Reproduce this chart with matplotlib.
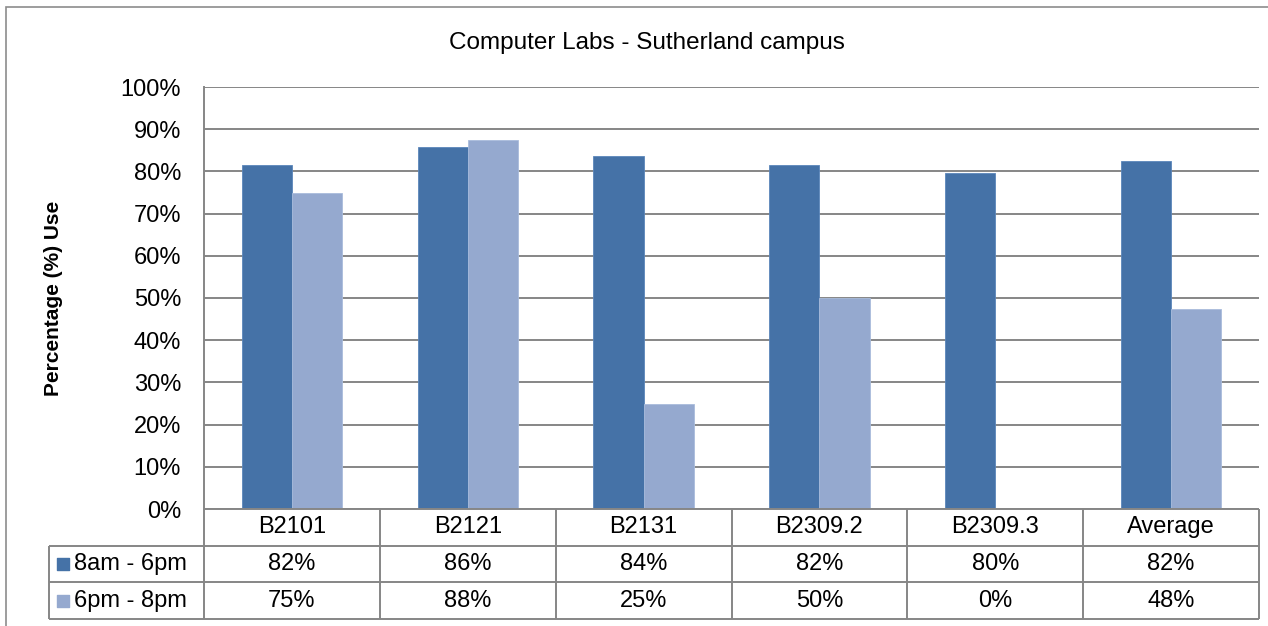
import numpy as np
import matplotlib.pyplot as plt
from matplotlib.patches import Rectangle

# chart data
categories = ["B2101", "B2121", "B2131", "B2309.2", "B2309.3", "Average"]
series_names = ["8am - 6pm", "6pm - 8pm"]
day_use = [81.6, 85.7, 83.6, 81.6, 79.6, 82.4]
evening_use = [75.0, 87.5, 25.0, 50.0, 0.0, 47.5]
yticks = list(range(0, 101, 10))

DARK = "#4572A7"
LIGHT = "#95A9CF"
GRID = "#868686"
FONT = "Liberation Sans"

W, H = 1268, 626
fig = plt.figure(figsize=(W / 100, H / 100), dpi=100)
fig.patch.set_facecolor("white")


def px_axes(x0, y0, x1, y1):
    """axes from pixel box (top-left origin)"""
    return fig.add_axes([x0 / W, 1 - y1 / H, (x1 - x0) / W, (y1 - y0) / H])


# outer chart border
fig.patches.append(Rectangle((6 / W, -0.05), 1.05, 1 - 7 / H + 0.05,
                             transform=fig.transFigure, fill=False,
                             edgecolor="#8c8c8c", lw=1.2))

ax = px_axes(204, 87, 1259, 509)
x = np.arange(len(categories))
bw = 0.285
ax.bar(x - bw / 2, day_use, bw, color=DARK, edgecolor="#5b86bb", lw=0.6, zorder=3)
ax.bar(x + bw / 2, evening_use, bw, color=LIGHT, edgecolor="#a9bcdc", lw=0.6, zorder=3)
ax.set_xlim(-0.5, len(categories) - 0.5)
ax.set_ylim(0, 100)
ax.set_yticks(yticks)
ax.set_yticklabels([f"{t}%" for t in yticks], fontsize=17, family=FONT)
ax.tick_params(axis="y", length=0, pad=16.5)
ax.set_xticks([])
ax.yaxis.grid(True, color=GRID, lw=1.4, zorder=0)
for s in ["top", "right", "bottom"]:
    ax.spines[s].set_visible(False)
ax.spines["left"].set_color(GRID)
ax.spines["left"].set_linewidth(1.4)
ax.set_ylabel("Percentage (%) Use", fontsize=15, family=FONT, fontweight="bold")
ax.yaxis.set_label_coords(-141 / 1055, 0.5)

fig.text(647 / W, 1 - 43 / H, "Computer Labs - Sutherland campus",
         ha="center", va="center", fontsize=17.5, family=FONT)

# data table below the axis
lead = 155 / (1055 / len(categories))
tab = px_axes(49, 509, 1259, 619)
tab.set_xlim(-0.5 - lead, len(categories) - 0.5)
tab.set_ylim(3, 0)
tab.axis("off")
edges = np.arange(len(categories) + 1) - 0.5
lc = dict(color=GRID, lw=1.4, clip_on=False)
tab.hlines(0, edges[0], edges[-1], **lc)
for r in [1, 2, 3]:
    tab.hlines(r, -0.5 - lead, edges[-1], **lc)
tab.vlines(edges, 0, 3, **lc)
tab.vlines(-0.5 - lead, 1, 3, **lc)

for i, c in enumerate(categories):
    tab.text(i, 0.5, c, ha="center", va="center", fontsize=17, family=FONT)
for r, (vals, name, col) in enumerate(zip([day_use, evening_use], series_names, [DARK, LIGHT])):
    yc = r + 1.5
    for i, v in enumerate(vals):
        tab.text(i, yc, f"{v:.0f}%", ha="center", va="center", fontsize=17, family=FONT)
    tab.scatter([-0.5 - lead + 0.078], [yc], marker="s", s=85, color=col, clip_on=False)
    tab.text(-0.5 - lead + 0.145, yc, name, ha="left", va="center", fontsize=17, family=FONT)

fig.savefig("out.png", dpi=100)
